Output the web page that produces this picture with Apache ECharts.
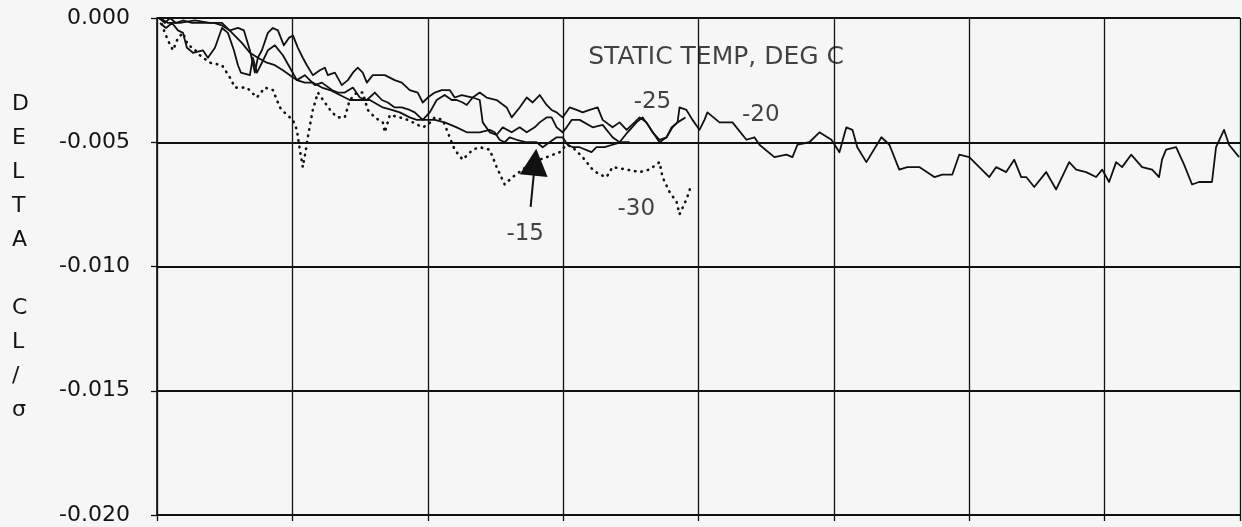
<!DOCTYPE html>
<html>
<head>
<meta charset="utf-8">
<script src="https://cdn.jsdelivr.net/npm/echarts@6/dist/echarts.min.js"></script>
<style>
  html, body { margin: 0; padding: 0; background: #f6f6f6; }
  #chart { width: 1242px; height: 527px; }
</style>
</head>
<body>
<div id="chart"></div>
<script>
// Delta CL / sigma versus run position, one trace per static temperature (deg C)
const yTicks = [0, -0.005, -0.010, -0.015, -0.020];

const tempMinus15 = [
  [0.22,0],[0.81,-0.0002],[1.70,-0.0002],[2.80,-0.0001],[3.91,-0.0002],[4.80,-0.0002],
  [5.54,-0.0006],[6.27,-0.0010],[6.86,-0.0014],[7.45,-0.0016],[8.12,-0.0018],[8.71,-0.0019],
  [9.30,-0.0021],[9.82,-0.0023],[10.33,-0.0025],[10.92,-0.0026],[11.51,-0.0026],[12.18,-0.0028],
  [12.77,-0.0029],[13.51,-0.0031],[14.24,-0.0033],[14.98,-0.0033],[15.72,-0.0033],[16.68,-0.0036],
  [17.34,-0.0037],[17.93,-0.0038],[18.67,-0.0040],[19.19,-0.0041],[19.78,-0.0041],[20.52,-0.0041],
  [21.25,-0.0042],[22.14,-0.0044],[22.88,-0.0046],[23.84,-0.0046],[24.58,-0.0045],[24.94,-0.0046],
  [25.31,-0.0049],[25.68,-0.0050],[26.05,-0.0048],[26.57,-0.0049],[27.31,-0.0050],[28.04,-0.0050],
  [28.49,-0.0052],[29.00,-0.0050],[29.52,-0.0048],[29.96,-0.0048],[30.33,-0.0051],[30.70,-0.0052],
  [31.22,-0.0052],[32.10,-0.0054],[32.47,-0.0052],[33.06,-0.0052],[33.65,-0.0051],[34.32,-0.0050],
  [34.91,-0.0050]
];

const tempMinus20 = [
  [0.15,0],[0.59,-0.0002],[0.96,0],[1.40,-0.0002],[1.92,-0.0001],[2.58,-0.0002],[3.39,-0.0002],
  [4.21,-0.0002],[4.80,-0.0003],[5.39,-0.0005],[5.98,-0.0004],[6.42,-0.0005],[6.86,-0.0013],
  [7.23,-0.0022],[7.45,-0.0016],[7.75,-0.0013],[8.19,-0.0006],[8.56,-0.0004],[8.93,-0.0005],
  [9.37,-0.0011],[9.74,-0.0008],[10.04,-0.0007],[10.41,-0.0012],[10.77,-0.0016],[11.07,-0.0019],
  [11.51,-0.0023],[12.03,-0.0021],[12.40,-0.0020],[12.62,-0.0023],[13.14,-0.0022],[13.65,-0.0027],
  [14.10,-0.0025],[14.47,-0.0022],[14.83,-0.0020],[15.20,-0.0022],[15.50,-0.0026],[15.94,-0.0023],
  [16.83,-0.0023],[17.56,-0.0025],[18.08,-0.0026],[18.67,-0.0029],[19.26,-0.0030],[19.63,-0.0034],
  [20.00,-0.0032],[20.52,-0.0030],[21.03,-0.0029],[21.62,-0.0029],[21.99,-0.0032],[22.51,-0.0031],
  [23.32,-0.0032],[23.84,-0.0030],[24.35,-0.0032],[25.09,-0.0033],[25.83,-0.0036],[26.20,-0.0040],
  [26.79,-0.0036],[27.31,-0.0032],[27.75,-0.0034],[28.27,-0.0031],[28.78,-0.0035],[29.15,-0.0037],
  [29.52,-0.0038],[29.96,-0.0040],[30.48,-0.0036],[31.00,-0.0037],[31.44,-0.0038],[31.96,-0.0037],
  [32.55,-0.0036],[32.92,-0.0041],[33.65,-0.0044],[34.17,-0.0042],[34.69,-0.0045],[35.28,-0.0042],
  [35.65,-0.0040],[36.16,-0.0042],[36.61,-0.0046],[37.12,-0.0049],[37.64,-0.0048],[38.08,-0.0044],
  [38.45,-0.0042],[38.60,-0.0036],[39.11,-0.0037],[39.56,-0.0041],[40.07,-0.0045],[40.44,-0.0041],
  [40.66,-0.0038],[41.55,-0.0042],[42.51,-0.0042],[43.54,-0.0049],[44.13,-0.0048],[44.50,-0.0051],
  [45.61,-0.0056],[46.49,-0.0055],[46.94,-0.0056],[47.31,-0.0051],[48.19,-0.0050],[48.93,-0.0046],
  [49.82,-0.0049],[50.41,-0.0054],[50.92,-0.0044],[51.37,-0.0045],[51.73,-0.0052],[52.40,-0.0058],
  [53.51,-0.0048],[54.10,-0.0051],[54.83,-0.0061],[55.42,-0.0060],[56.31,-0.0060],[57.42,-0.0064],
  [58.01,-0.0063],[58.75,-0.0063],[59.26,-0.0055],[60.00,-0.0056],[60.74,-0.0060],[61.48,-0.0064],
  [61.99,-0.0060],[62.73,-0.0062],[63.32,-0.0057],[63.84,-0.0064],[64.21,-0.0064],[64.80,-0.0068],
  [65.68,-0.0062],[66.42,-0.0069],[67.38,-0.0058],[67.90,-0.0061],[68.63,-0.0062],[69.37,-0.0064],
  [69.82,-0.0061],[70.33,-0.0066],[70.85,-0.0058],[71.29,-0.0060],[71.96,-0.0055],[72.77,-0.0060],
  [73.51,-0.0061],[74.02,-0.0064],[74.24,-0.0057],[74.54,-0.0053],[75.28,-0.0052],[75.87,-0.0059],
  [76.46,-0.0067],[76.97,-0.0066],[77.93,-0.0066],[78.23,-0.0052],[78.82,-0.0045],[79.19,-0.0051],
  [79.93,-0.0056]
];

const tempMinus25 = [
  [0.22,-0.0002],[0.66,-0.0004],[1.11,-0.0002],[1.55,-0.0005],[1.92,-0.0006],[2.21,-0.0012],
  [2.66,-0.0014],[3.39,-0.0013],[3.76,-0.0016],[4.28,-0.0012],[4.80,-0.0004],[5.24,-0.0006],
  [5.68,-0.0013],[5.98,-0.0019],[6.20,-0.0022],[6.86,-0.0023],[7.08,-0.0016],[7.38,-0.0022],
  [7.75,-0.0018],[8.19,-0.0013],[8.71,-0.0011],[9.30,-0.0015],[9.82,-0.0020],[10.33,-0.0025],
  [10.92,-0.0023],[11.66,-0.0027],[12.18,-0.0026],[12.92,-0.0029],[13.36,-0.0030],[13.87,-0.0030],
  [14.47,-0.0028],[14.98,-0.0032],[15.50,-0.0033],[16.09,-0.0030],[16.61,-0.0033],[17.05,-0.0034],
  [17.56,-0.0036],[18.08,-0.0036],[18.67,-0.0037],[19.04,-0.0038],[19.63,-0.0041],[20.15,-0.0038],
  [20.66,-0.0033],[21.25,-0.0031],[21.77,-0.0033],[22.14,-0.0033],[22.58,-0.0034],[22.88,-0.0035],
  [23.32,-0.0032],[23.84,-0.0033],[24.06,-0.0042],[24.58,-0.0046],[25.09,-0.0047],[25.54,-0.0044],
  [26.20,-0.0046],[26.79,-0.0044],[27.31,-0.0046],[27.90,-0.0044],[28.27,-0.0042],[28.78,-0.0040],
  [29.15,-0.0040],[29.52,-0.0044],[29.96,-0.0046],[30.26,-0.0044],[30.63,-0.0041],[31.22,-0.0041],
  [32.18,-0.0044],[32.92,-0.0043],[33.65,-0.0048],[34.17,-0.0050],[34.76,-0.0046],[35.42,-0.0042],
  [35.87,-0.0040],[36.38,-0.0044],[37.12,-0.0050],[37.64,-0.0048],[38.01,-0.0044],[38.45,-0.0042],
  [39.04,-0.0040]
];

const tempMinus30 = [
  [0.22,0],[0.44,-0.0004],[0.81,-0.0009],[1.18,-0.0013],[1.55,-0.0008],[1.92,-0.0006],[2.29,-0.0011],
  [2.66,-0.0012],[3.17,-0.0015],[3.91,-0.0018],[4.80,-0.0019],[5.39,-0.0024],[5.76,-0.0028],
  [6.64,-0.0028],[7.38,-0.0032],[7.97,-0.0028],[8.56,-0.0029],[9.08,-0.0036],[9.59,-0.0039],
  [10.04,-0.0041],[10.33,-0.0045],[10.55,-0.0053],[10.77,-0.0060],[11.00,-0.0053],[11.14,-0.0048],
  [11.51,-0.0037],[11.88,-0.0030],[12.40,-0.0034],[12.92,-0.0038],[13.36,-0.0040],[13.87,-0.0040],
  [14.24,-0.0033],[14.76,-0.0030],[15.20,-0.0030],[15.57,-0.0037],[16.09,-0.0040],[16.68,-0.0042],
  [16.83,-0.0046],[17.20,-0.0039],[17.93,-0.0040],[18.52,-0.0041],[18.89,-0.0042],[19.63,-0.0044],
  [20.00,-0.0043],[20.52,-0.0040],[21.11,-0.0041],[21.99,-0.0053],[22.58,-0.0057],[23.32,-0.0053],
  [23.84,-0.0052],[24.58,-0.0053],[25.09,-0.0060],[25.68,-0.0067],[26.27,-0.0064],[27.01,-0.0061],
  [27.75,-0.0058],[28.78,-0.0056],[29.74,-0.0054],[30.26,-0.0051],[30.70,-0.0052],[31.44,-0.0056],
  [32.18,-0.0061],[32.69,-0.0063],[33.21,-0.0064],[33.65,-0.0060],[34.69,-0.0061],[35.65,-0.0062],
  [36.38,-0.0061],[37.12,-0.0058],[37.34,-0.0064],[37.86,-0.0070],[38.38,-0.0074],[38.60,-0.0079],
  [39.11,-0.0073],[39.48,-0.0067]
];

// text placed in data coordinates: [x, y, text, fontSize]
const annotations = [
  [41.3, -0.0016, 'STATIC TEMP, DEG C', 25],
  [36.6, -0.0034, '-25', 23],
  [44.6, -0.0039, '-20', 23],
  [35.4, -0.0077, '-30', 23],
  [27.2, -0.0087, '-15', 23]
];

// pointer from the -15 label up to its trace
const arrowFrom = [27.6, -0.0076];
const arrowTo = [27.92, -0.0058];

const ink = '#111111';
const textInk = '#141414';
const font = 'DejaVu Sans';

const chart = echarts.init(document.getElementById('chart'), null, { renderer: 'canvas' });

function trace(name, data, dotted) {
  return {
    name: name,
    type: 'line',
    data: data,
    showSymbol: false,
    symbol: 'none',
    smooth: false,
    animation: false,
    silent: true,
    z: 3,
    lineStyle: dotted
      ? { color: ink, width: 2.6, type: [0.5, 6], cap: 'round' }
      : { color: ink, width: 1.8, join: 'round' }
  };
}

const option = {
  backgroundColor: '#f6f6f6',
  animation: false,
  grid: { left: 157, right: 2, top: 18, bottom: 12, show: false, containLabel: false },
  xAxis: {
    type: 'value',
    min: 0, max: 80, interval: 10,
    axisLine: { show: true, onZero: false, lineStyle: { color: ink, width: 2 } },
    axisTick: { show: true, inside: false, length: 6, lineStyle: { color: ink, width: 1.3 } },
    axisLabel: { show: false },
    splitLine: { show: true, lineStyle: { color: ink, width: 1.3 } }
  },
  yAxis: {
    type: 'value',
    min: -0.02, max: 0, interval: 0.005,
    axisLine: { show: true, onZero: false, lineStyle: { color: ink, width: 1.6 } },
    axisTick: { show: true, inside: false, length: 6, lineStyle: { color: ink, width: 1.3 } },
    axisLabel: {
      show: true, margin: 27, color: textInk, fontFamily: font, fontSize: 22,
      formatter: function (v) {
        const hit = yTicks.find(t => Math.abs(t - v) < 1e-9);
        return (hit === undefined ? v : hit).toFixed(3);
      }
    },
    splitLine: { show: true, lineStyle: { color: ink, width: 1.8 } }
  },
  graphic: [{
    type: 'text',
    left: 12,
    top: 87,
    silent: true,
    style: {
      text: 'D\nE\nL\nT\nA\n\nC\nL\n/\nσ',
      fontFamily: font,
      fontSize: 22,
      lineHeight: 34,
      fill: textInk,
      align: 'center'
    }
  }],
  series: [
    (function () {
      const s = trace('-15', tempMinus15, false);
      s.markLine = {
        silent: true,
        animation: false,
        symbol: ['none', 'triangle'],
        symbolSize: [28, 27],
        label: { show: false },
        lineStyle: { color: ink, width: 2, type: 'solid' },
        itemStyle: { color: ink },
        data: [[{ coord: arrowFrom }, { coord: arrowTo }]]
      };
      return s;
    })(),
    trace('-20', tempMinus20, false),
    trace('-25', tempMinus25, false),
    trace('-30', tempMinus30, true),
    {
      name: 'labels',
      type: 'scatter',
      silent: true,
      animation: false,
      symbolSize: 0,
      z: 5,
      data: annotations.map(a => ({
        value: [a[0], a[1]],
        label: {
          show: true,
          position: 'inside',
          formatter: a[2],
          fontFamily: font,
          fontSize: a[3],
          color: textInk
        }
      }))
    }
  ]
};

chart.setOption(option);
</script>
</body>
</html>
